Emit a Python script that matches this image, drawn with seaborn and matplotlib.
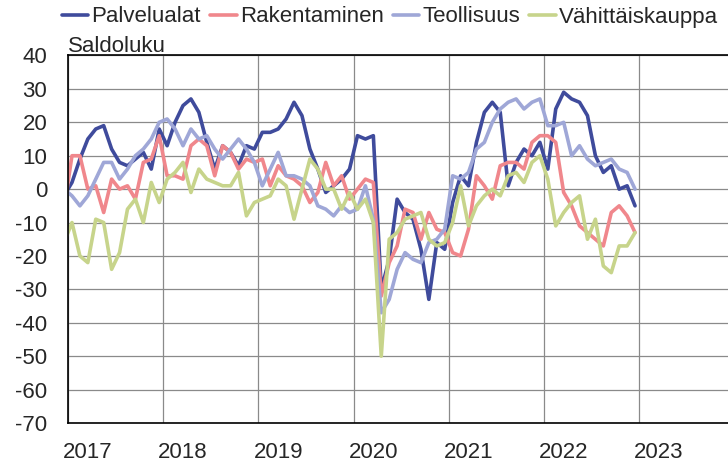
import numpy as np
import pandas as pd
import matplotlib
matplotlib.use("Agg")
import matplotlib.pyplot as plt
import seaborn as sns

# Monthly balance figures, Dec 2016 .. Dec 2022 (first point lies just left of the axis)
months = pd.period_range("2016-12", "2022-12", freq="M")

palvelualat = [-2,
    2, 9, 15, 18, 19, 12, 8, 7, 9, 11, 6, 18,
    13, 20, 25, 27, 23, 14, 6, 13, 11, 7, 13, 12,
    17, 17, 18, 21, 26, 22, 12, 6, -1, 1, 3, 6,
    16, 15, 16, -30, -21, -3, -7, -9, -18, -33, -16, -18,
    -4, 4, 1, 14, 23, 26, 23, 1, 8, 12, 10, 14,
    6, 24, 29, 27, 26, 22, 10, 5, 7, 0, 1, -5]
rakentaminen = [-6,
    10, 10, 0, 1, -7, 3, 0, 1, -3, 8, 9, 16,
    4, 4, 3, 13, 15, 13, 4, 13, 11, 6, 9, 8,
    9, 1, 7, 4, 3, 1, -4, -1, 8, 1, 4, -3,
    0, 3, 2, -32, -22, -17, -6, -7, -15, -7, -12, -13,
    -19, -20, -12, 4, 1, -3, 7, 8, 8, 6, 14, 16,
    16, 14, -1, -5, -11, -13, -15, -17, -7, -5, -8, -13]
teollisuus = [0,
    -2, -5, -2, 3, 8, 8, 3, 6, 10, 12, 15, 20,
    21, 18, 13, 18, 15, 16, 12, 9, 12, 15, 12, 8,
    1, 6, 11, 4, 4, 3, 1, -5, -6, -8, -5, -7,
    -6, 1, -9, -37, -33, -24, -19, -21, -22, -16, -15, -12,
    4, 3, 5, 12, 14, 20, 24, 26, 27, 24, 26, 27,
    19, 19, 20, 10, 13, 9, 7, 8, 9, 6, 5, 0]
vahittaiskauppa = [-16,
    -10, -20, -22, -9, -10, -24, -19, -6, -3, -10, 2, -4,
    3, 5, 8, -1, 6, 3, 2, 1, 1, 5, -8, -4,
    -3, -2, 3, 1, -9, 0, 9, 6, 0, 0, -6, -1,
    -6, -3, -10, -50, -15, -13, -9, -8, -7, -15, -17, -16,
    -10, 1, -11, -5, -2, 0, -2, 4, 5, 2, 8, 10,
    3, -11, -7, -4, -2, -15, -9, -23, -25, -17, -17, -13]

series_names = ["Palvelualat", "Rakentaminen", "Teollisuus", "Vähittäiskauppa"]
colors = ["#3F4B9C", "#F0878C", "#9FA7D7", "#C7D48B"]
year_labels = ["2017", "2018", "2019", "2020", "2021", "2022", "2023"]

xpos = np.asarray(months.year + (months.month - 0.5) / 12.0, dtype=float)
df = pd.concat([
    pd.DataFrame({"x": xpos, "value": vals, "series": name})
    for name, vals in zip(series_names, [palvelualat, rakentaminen, teollisuus, vahittaiskauppa])
], ignore_index=True)

sns.set_style("white")
plt.rcParams["font.family"] = ["Liberation Sans", "DejaVu Sans"]
plt.rcParams["axes.unicode_minus"] = False

fig = plt.figure(figsize=(7.28, 4.69), dpi=100)
ax = fig.add_axes([68 / 728, 1 - 423 / 469, 1 - 68 / 728, (423 - 55.5) / 469])

sns.lineplot(data=df, x="x", y="value", hue="series", hue_order=series_names,
             palette=colors, linewidth=2.6, ax=ax, legend=True)

ax.set_xlim(2017, 2017 + 660 / 95.17)
ax.set_ylim(-70, 40)
ax.set_yticks(range(-70, 41, 10))
ax.set_xticks(range(2017, 2024))
ax.set_xticklabels([])
ax.set_xticks(np.arange(2017, 2024) + 0.21, minor=True)
ax.set_xticklabels(year_labels, minor=True)
ax.tick_params(which="both", length=0)
ax.tick_params(axis="x", which="minor", pad=14, labelsize=16)
ax.tick_params(axis="y", pad=15, labelsize=16)
ax.grid(True, which="major", color="#8a8a8a", linewidth=0.9)
ax.set_axisbelow(True)
for s in ["left", "top", "bottom"]:
    ax.spines[s].set_color("black")
    ax.spines[s].set_linewidth(1.2)
ax.spines["right"].set_visible(False)
ax.set_xlabel("")
ax.set_ylabel("")

fig.text(68 / 728, 1 - 52 / 469, "Saldoluku", fontsize=16, ha="left", va="baseline")

handles, labels = ax.get_legend_handles_labels()
ax.get_legend().remove()
fig.legend(handles, labels, ncol=4, loc="center", bbox_to_anchor=(390 / 728, 1 - 17 / 469),
           frameon=False, fontsize=16, handlelength=1.2, handletextpad=0.15,
           columnspacing=0.4, borderpad=0, borderaxespad=0)

fig.savefig("out.png", dpi=100)
